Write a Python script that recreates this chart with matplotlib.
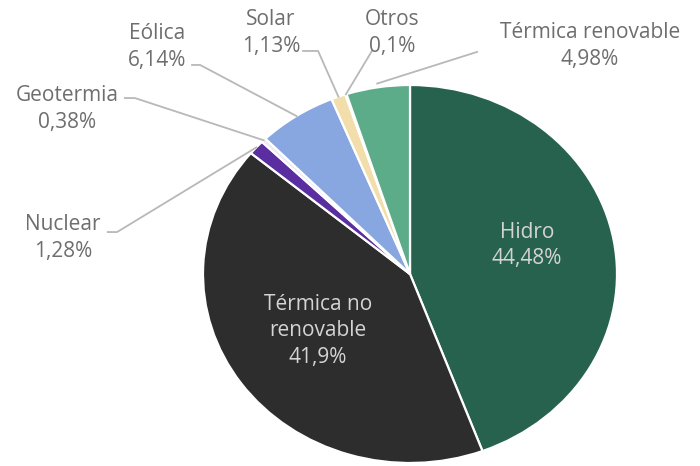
import numpy as np
import matplotlib.pyplot as plt

plt.rcParams['font.family'] = ['Open Sans', 'DejaVu Sans']

# generation share by source, clockwise from the top
sources = ['Hidro', 'Térmica no\nrenovable', 'Nuclear', 'Geotermia',
           'Eólica', 'Solar', 'Otros', 'Térmica renovable']
shares = [44.48, 41.9, 1.28, 0.38, 6.14, 1.13, 0.1, 4.98]
share_labels = ['44,48%', '41,9%', '1,28%', '0,38%', '6,14%', '1,13%', '0,1%', '4,98%']
colors = ['#27624f', '#2d2d2d', '#5a2ea0', '#ece8f4', '#88a6df',
          '#f2deaa', '#e6f0e6', '#5cab89']

fig = plt.figure(figsize=(7, 4.66), dpi=100)
ax = fig.add_axes([203 / 700, 3 / 466, 414 / 700, 378 / 466])

wedges, _ = ax.pie(shares, colors=colors, startangle=90, counterclock=False,
                   wedgeprops=dict(edgecolor='white', linewidth=1.6))
ax.set_aspect('auto')
ax.set_xlim(-1, 1)
ax.set_ylim(-1, 1)

# label placement: (text x, text y, leader points from text toward wedge)
layout = {
    0: (0.565, 0.15, None),
    1: (-0.444, -0.30, None),
    2: (-1.676, 0.19, [(-1.46, 0.222), (-1.415, 0.222)]),
    3: (-1.657, 0.873, [(-1.377, 0.931), (-1.329, 0.931)]),
    4: (-1.222, 1.20, [(-1.053, 1.106), (-1.014, 1.106)]),
    5: (-0.671, 1.275, [(-0.517, 1.180), (-0.444, 1.180)]),
    6: (-0.087, 1.275, [(-0.184, 1.180)]),
    7: (0.870, 1.206, [(0.324, 1.175)]),
}

line_col = '#b8b8b8'
for i, w in enumerate(wedges):
    tx, ty, pts = layout[i]
    text = f'{sources[i]}\n{share_labels[i]}'
    if pts is None:
        ax.text(tx, ty, text, ha='center', va='center', fontsize=15,
                color='#d4d4d4', linespacing=1.35)
        continue
    ax.text(tx, ty, text, ha='center', va='center', fontsize=15,
            color='#6e6e6e', linespacing=1.35, clip_on=False)
    mid = np.deg2rad((w.theta1 + w.theta2) / 2)
    r = 1.02 if i == 7 else 1.0
    xs = [p[0] for p in pts] + [r * np.cos(mid)]
    ys = [p[1] for p in pts] + [r * np.sin(mid)]
    ax.plot(xs, ys, color=line_col, lw=1.3, clip_on=False)

fig.savefig('out.png', dpi=100, facecolor='white')
